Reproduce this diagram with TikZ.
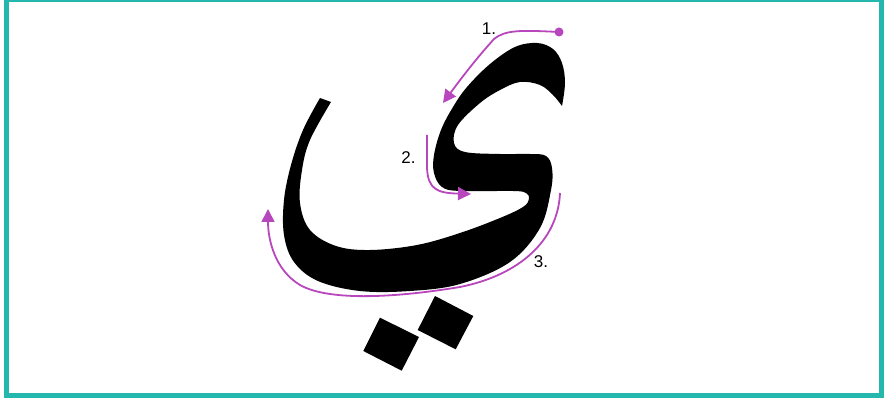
\documentclass[tikz,border=0pt]{standalone}
\usepackage{fontspec}
\setmainfont{Liberation Sans}
\usetikzlibrary{arrows.meta, positioning}
\definecolor{framecol}{RGB}{35,183,173}
\definecolor{guidecol}{RGB}{184,70,188}

\begin{document}
\begin{tikzpicture}[x=1pt, y=-1pt, >={Triangle[length=13pt, width=13pt]},
    glyph/.style={fill=black},
    guide/.style={draw=guidecol, line width=1.8pt, ->, color=guidecol},
    steplabel/.style={inner sep=0pt, font=\fontsize{17}{20}\selectfont}]
    \useasboundingbox (0,0) rectangle (889,403);

    % Draw frame
    \draw[framecol, line width=5pt] (6.5,0) rectangle (881.5,395.5);

    % Draw letter body
    \fill[glyph] plot[smooth, tension=0.6] coordinates {(320,98) (303,130) (291,165) (284,200) (284,235) (294,262) (318,281) (360,291) (410,291) (460,284) (510,262) (540,228) (551,190) (552,168) (546,156) (530,154) (500,154) (465,152) (454,143) (458,125) (480,103) (500,90) (520,82) (540,85) (553,95) (562,106)}
        -- plot[smooth, tension=0.6] coordinates {(562,106) (565,83) (562,63) (553,49) (537,43) (515,47) (490,64) (467,87) (453,107) (441,130) (434,155) (434,173) (442,187) (460,191) (513,191) (526,193) (529,199) (523,207) (500,218) (460,233) (417,245) (370,250) (336,246) (310,230) (300,203) (302,170) (310,140) (331,102)}
        -- cycle;

    % Draw the two dots
    \fill[glyph] (380,317.7) -- (419,337) -- (401.7,370.7) -- (363.3,351) -- cycle;
    \fill[glyph] (435,296) -- (473.3,316) -- (455.7,349.3) -- (417.7,330) -- cycle;

    % Draw stroke order guides
    \coordinate (s1) at (559,32);
    \coordinate (e1) at (443,103);
    \coordinate (s2) at (427,135);
    \coordinate (e2) at (471,194);
    \coordinate (s3) at (560,193);
    \coordinate (e3) at (268,209);
    \fill[guidecol] (s1) circle (4.5);
    \draw[guide] (s1) .. controls (520,30) and (505,30) .. (494,39) .. controls (475,60) and (460,80) .. (e1);
    \draw[guide] (s2) -- (427,168) .. controls (428,190) and (438,193) .. (e2);
    \draw[guide] (s3) .. controls (558,240) and (520,275) .. (460,287) .. controls (400,297) and (330,302) .. (300,285) .. controls (275,270) and (268,240) .. (e3);

    % Draw step numbers
    \node[steplabel] (lab1) at (489,29) {1.};
    \node[steplabel] (lab2) at (408.5,157.5) {2.};
    \node[steplabel] (lab3) at (541,261.5) {3.};

\end{tikzpicture}
\end{document}
